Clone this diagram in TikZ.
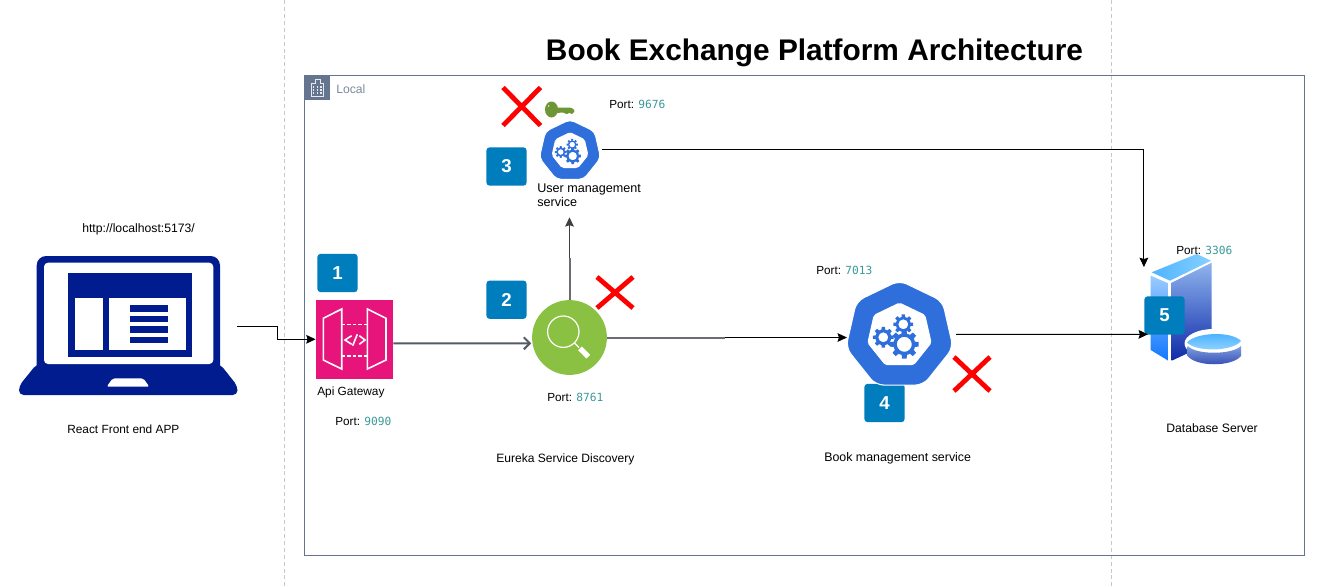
\documentclass[tikz,border=0pt]{standalone}
\usepackage{fontspec}
\setmainfont{Liberation Sans}
\newfontfamily\portmono{DejaVu Sans Mono}
\usetikzlibrary{arrows.meta,calc}
\definecolor{frameblue}{HTML}{66758F}
\definecolor{badgeblue}{HTML}{007DBC}
\definecolor{kubeblue}{HTML}{2F6FDC}
\definecolor{lapblue}{HTML}{001C8E}
\definecolor{gwpink}{HTML}{E7157B}
\definecolor{eurekagreen}{HTML}{8BC143}
\definecolor{portteal}{HTML}{3A9A9A}
\definecolor{linegray}{HTML}{6A6E74}
\definecolor{arrowgray}{HTML}{545B64}
\definecolor{keygreen}{HTML}{6F9636}
\definecolor{dbleftT}{HTML}{9ACBFF}
\definecolor{dbleftB}{HTML}{1278FF}
\definecolor{dbrightT}{HTML}{8FB4EE}
\definecolor{dbrightB}{HTML}{0E2AA8}
\definecolor{dbtopL}{HTML}{4FB4FF}
\definecolor{dbtopR}{HTML}{86D0FF}
\definecolor{cylT}{HTML}{7F9FE0}
\definecolor{cylB}{HTML}{2D45B0}
\definecolor{lensT}{HTML}{3FADFF}
\definecolor{lensB}{HTML}{9AD6FF}
\tikzset{
  lbl/.style={inner sep=0pt,anchor=west,font=\fontsize{9.15pt}{10.5pt}\selectfont,text height=6.6pt,text depth=1.9pt},
  lblnarrow/.style={lbl,font=\fontsize{8.9pt}{10.5pt}\selectfont},
  lblwide/.style={lbl,font=\fontsize{9.45pt}{10.5pt}\selectfont},
  portlbl/.style={lbl,font=\fontsize{8.8pt}{10.5pt}\selectfont},
  badge/.style={draw=none,fill=badgeblue,rounded corners=2.5pt,minimum width=30.2pt,minimum height=28.8pt,inner sep=0pt,text=white,font=\fontsize{14pt}{14pt}\selectfont\bfseries},
  iconbox/.style={inner sep=0pt,draw=none},
  redx/.style={draw=red,line width=3.6pt},
  conn/.style={draw=black,line width=0.75pt,-{Stealth[length=7pt,width=6.5pt,inset=1pt]}},
  thickgray/.style={draw=linegray,line width=1.5pt},
  guide/.style={draw=black!22,line width=0.6pt,dash pattern=on 3pt off 2.2pt},
}
\newcommand{\portlabel}[1]{Port: {\portmono\fontsize{8.4pt}{10pt}\selectfont\textcolor{portteal}{#1}}}
\newcommand{\gearshape}[5]{% x y outer-radius hole-radius tooth-radius
  \fill[kubeblue,even odd rule] (#1,#2) circle (#3) (#1,#2) circle (#4);
  \foreach \a in {0,45,...,315}{
    \fill[kubeblue] ($(#1,#2)+(\a-15:#3-0.5)$) -- ($(#1,#2)+(\a-9:#5)$) -- ($(#1,#2)+(\a+9:#5)$) -- ($(#1,#2)+(\a+15:#3-0.5)$) -- cycle;
  }
}
\newcommand{\kubeicon}[4]{% x y scale outer-rounding
  \begin{scope}[shift={(#1,#2)},scale=#3]
    \draw[fill=kubeblue,draw=white,line width=0.8pt,rounded corners=#4]
      (-90:55) -- (-38.57:55) -- (12.86:55) -- (64.29:55) -- (115.71:55) -- (167.14:55) -- (218.57:55) -- cycle;
    \fill[white,rounded corners=1.5pt]
      (-90:33) -- (-38.57:33) -- (12.86:33) -- (64.29:33) -- (115.71:33) -- (167.14:33) -- (218.57:33) -- cycle;
    \gearshape{4.8}{8.8}{11}{7.5}{14.5}
    \gearshape{-16.2}{1.8}{8}{5}{10.5}
    \gearshape{3.8}{-11.2}{7.5}{5}{10}
  \end{scope}
}
\begin{document}
\begin{tikzpicture}[x=0.75pt,y=-0.75pt]
\useasboundingbox (0,0) rectangle (1322,586);
\fill[white] (0,0) rectangle (1322,586);

% guides and frame
\draw[guide] (284,0) -- (284,586);
\draw[guide] (1111,0) -- (1111,586);
\draw[frameblue,line width=0.75pt] (304.5,75.5) rectangle (1304.5,555);
\fill[frameblue] (304,75) rectangle (329.5,100);
\draw[white!85!frameblue,line width=0.5pt] (311,96) -- (311,83.5) -- (315,83.5) -- (315,79) -- (320,79) -- (320,83.5) -- (323.5,83.5) -- (323.5,96) -- cycle;
\foreach \yy in {86,89,92}{\foreach \xx in {313.5,317.5,321}{\fill[white!85!frameblue] (\xx-0.8,\yy) rectangle (\xx+0.8,\yy+1.6);}}
\node[lbl,text=frameblue!85!white] (local) at (336,90) {Local};

\node[inner sep=0pt,font=\fontsize{22.37pt}{24pt}\selectfont\bfseries] (title) at (814.5,53) {Book Exchange Platform Architecture};

% icon placeholders
\node[iconbox,minimum width=163.5pt,minimum height=104pt] (lap) at (128,326) {};
\node[iconbox,minimum width=58pt,minimum height=58.5pt] (gw) at (354.5,339.3) {};
\node[iconbox,minimum width=56pt,minimum height=56pt] (eur) at (569.5,337.5) {};
\node[iconbox,minimum width=45pt,minimum height=43pt] (user) at (569.5,149.5) {};
\node[iconbox,minimum width=78.5pt,minimum height=76pt] (book) at (899.5,337.5) {};
\node[iconbox,minimum width=68pt,minimum height=82.5pt] (db) at (1195.5,309) {};

% badges 1-4 under the icons
\node[badge] (b1) at (337.5,273) {1};
\node[badge] (b2) at (506.5,299.7) {2};
\node[badge] (b3) at (506.5,166.5) {3};
\node[badge] (b4) at (884.5,403) {4};

% laptop
\begin{scope}
  \fill[lapblue,rounded corners=7pt] (36.7,380) -- (36.7,256) -- (220,256) -- (220,380) -- cycle;
  \fill[lapblue,rounded corners=3.5pt] (36.7,364) -- (220,364) -- (237.5,386) -- (237.5,395) -- (19,395) -- (19,386) -- cycle;
  \fill[white,rounded corners=3pt] (44,364) -- (44,262.7) -- (213.3,262.7) -- (213.3,364) -- cycle;
  \fill[lapblue] (68,273.3) rectangle (192.3,356.7);
  \fill[white] (74.7,298.3) rectangle (102.7,350);
  \fill[white] (109.3,298.3) rectangle (185.7,350);
  \foreach \yy in {305,315.7,326,336.7}{\fill[lapblue] (130,\yy) rectangle (168,\yy+6.6);}
  \fill[white,rounded corners=1.5pt] (112.7,378.3) -- (143.3,378.3) -- (149.3,386.7) -- (106.7,386.7) -- cycle;
\end{scope}

% gateway
\fill[gwpink] (gw.south west) rectangle (gw.north east);
\begin{scope}[white,line width=1.2pt]
  \draw (323.3,318.3) -- (341.7,309) -- (341.7,369) -- (323.3,360) -- cycle;
  \draw (367.3,309) -- (386,318.3) -- (386,360) -- (367.3,369) -- cycle;
  \draw[dash pattern=on 2.5pt off 1.6pt] (342,324.3) -- (367,324.3);
  \draw[dash pattern=on 2.5pt off 1.6pt] (342,355.7) -- (367,355.7);
  \draw (351.7,335.7) -- (345,340) -- (351.7,344.3);
  \draw (359.3,335.7) -- (365,340) -- (359.3,344.3);
  \draw (357.3,334.3) -- (352.7,345.7);
\end{scope}

% connectors
\draw[conn] (lap.east) -- ++(40,0) |- (gw.west);
\draw[draw=arrowgray,line width=1.5pt,-{Straight Barb[length=4.5pt,width=9pt]}] ([yshift=-3pt]gw.east) -- ([xshift=-0.5pt,yshift=-4.35pt]eur.west);
\draw[conn,draw=black!75] (eur.north) -- ([yshift=-29.1pt]user.south);
\draw[thickgray] (eur.north) -- ++(0,-42);
\draw[conn] (eur.east) -- (book.west);
\draw[thickgray] (eur.east) -- ++(118,0);
\draw[conn] ([xshift=1.5pt]user.east) -| ([xshift=-4.5pt,yshift=-10pt]db.north west);

% eureka
\fill[eurekagreen] (eur.center) circle (37.4);
\draw[white,line width=0.9pt] (563.3,331.7) circle (15.7);
\draw[white,line width=0.9pt] (574.5,343) -- (579,347.5);
\draw[white,line width=4pt] (580,348.3) -- (588.3,356.7);

% kubernetes icons
\kubeicon{570}{151}{0.572}{3.5pt}
\kubeicon{899.5}{335.5}{1}{6pt}

% key
\fill[keygreen,even odd rule] (551.5,109.5) ellipse (6.5 and 8) (548.5,106) circle (1);
\fill[keygreen,rounded corners=0.8pt] (555,107.5) -- (571,107.5) -- (575,110.5) -- (572,114.5) -- (569.5,112.5) -- (566.5,114.5) -- (564,112.5) -- (555,113) -- cycle;

% database
\shade[top color=dbleftT,bottom color=dbleftB] (1150.7,275.7) -- (1168.3,283.3) -- (1168.3,360.7) -- (1150.7,350) -- cycle;
\shade[top color=dbrightT,bottom color=dbrightB] (1171.7,282.7) -- (1211.7,262.7) -- (1211.7,342) -- (1171.7,360.7) -- cycle;
\shade[left color=dbtopL,right color=dbtopR] (1151.7,272.3) -- (1196.7,254) -- (1211,260.7) -- (1170,280.7) -- cycle;
\fill[white] (1213.5,343.5) ellipse (29 and 14.5);
\shade[top color=cylT,bottom color=cylB] (1187.7,346) -- (1187.7,356) .. controls (1196,367) and (1232,367) .. (1241,356) -- (1241,346) .. controls (1232,355) and (1196,355) .. (1187.7,346) -- cycle;
\shade[top color=lensT,bottom color=lensB] (1187,342.5) .. controls (1196,332) and (1232,331) .. (1241,341) .. controls (1232,352) and (1196,352) .. (1187,342.5) -- cycle;

% badge 5 and the arrow over it
\node[badge] (b5) at (1164.5,315.5) {5};
\draw[conn] ([xshift=3pt,yshift=2.4pt]book.east) -- ([xshift=-1.5pt,yshift=-19pt]db.west);

% red crosses
\draw[redx] (503,87.5) -- (540.5,125.5) (540.5,87.5) -- (503,125.5);
\draw[redx] (597,277) -- (633,308) (633,277) -- (597,308);
\draw[redx] (954,357) -- (990,391) (990,357) -- (954,391);

% labels
\node[lbl] (tUrl) at (82,229) {http://localhost:5173/};
\node[lblnarrow] (tLap) at (67,430.5) {React Front end APP};
\node[lblnarrow] (tGw) at (317,392.5) {Api Gateway};
\node[portlbl] (pGw) at (335,422) {\portlabel{9090}};
\node[portlbl] (pEur) at (547,398.5) {\portlabel{8761}};
\node[lbl,font=\fontsize{9.05pt}{10.5pt}\selectfont] (tEur) at (496,459.5) {Eureka Service Discovery};
\node[portlbl] (pBook) at (816,271.5) {\portlabel{7013}};
\node[lbl,font=\fontsize{9.3pt}{10.5pt}\selectfont] (tBook) at (824,458.5) {Book management service};
\node[portlbl] (pDb) at (1176,251) {\portlabel{3306}};
\node[lbl] (tDb) at (1166,429.5) {Database Server};
\node[portlbl] (pUser) at (609,105.5) {\portlabel{9676}};
\node[lblwide] (tUser1) at (537,189.5) {User management};
\node[lblwide] (tUser2) at (537,203.5) {service};
\end{tikzpicture}
\end{document}
